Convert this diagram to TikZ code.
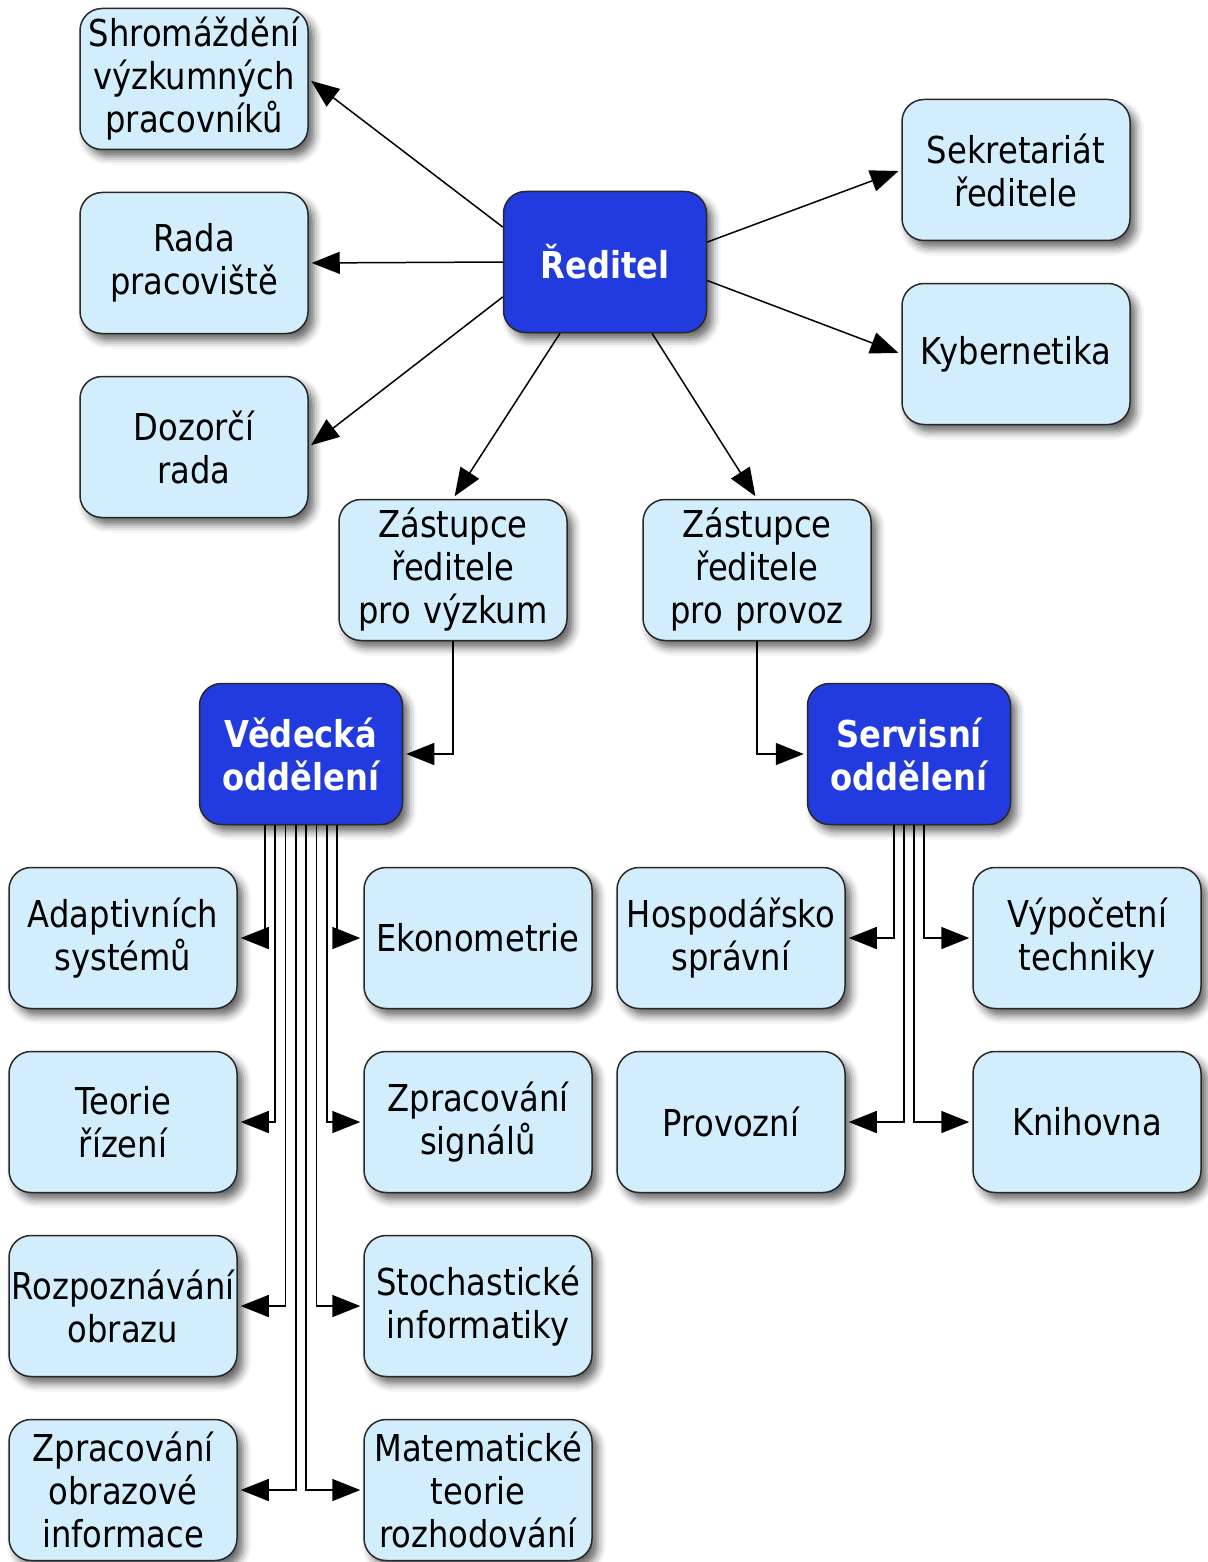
\documentclass[tikz,border=0pt]{standalone}
\usepackage{fontspec}
\setmainfont{DejaVu Sans}[FakeStretch=0.87]
\usepackage{tikz}
\usepackage{xcolor}
\usetikzlibrary{shapes,arrows.meta,positioning,calc,shadows.blur}

\definecolor{boxfill}{RGB}{210,238,252}
\definecolor{headfill}{RGB}{33,59,222}
\definecolor{boxline}{RGB}{40,40,40}

\begin{document}
\begin{tikzpicture}[x=0.5pt, y=-0.5pt, node distance=20.75pt]
            \tikzstyle{unit} = [rectangle, rounded corners=11pt, draw=boxline, line width=0.75pt, fill=boxfill, text width=112pt, align=center, minimum width=114pt, minimum height=70.5pt, inner sep=0pt, font=\fontsize{18.5pt}{21.5pt}\selectfont, blur shadow={shadow xshift=3pt, shadow yshift=-3.5pt, shadow blur radius=4pt, shadow opacity=60}]
            \tikzstyle{head} = [unit, fill=headfill, text=white, text width=100pt, minimum width=101.5pt, font=\fontsize{18.5pt}{21.5pt}\selectfont\bfseries]
            \tikzstyle{arrow} = [line width=0.75pt, -{Triangle[length=14pt,width=11pt]}, shorten >=1.5pt]

            \useasboundingbox (0,0) rectangle (1207,1562);

            % top level
            \node [head] (reditel) at (605,262) {Ředitel};
            \node [unit] (shromazdeni) at (194,79) {Shromáždění\\výzkumných\\pracovníků};
            \node [unit, below=of shromazdeni] (rada) {Rada\\pracoviště};
            \node [unit, below=of rada] (dozorci) {Dozorčí\\rada};
            \node [unit] (sekretariat) at (1016,170) {Sekretariát\\ředitele};
            \node [unit, below=of sekretariat] (kybernetika) {Kybernetika};
            \node [unit] (zastvyzkum) at (453,570) {Zástupce\\ředitele\\pro výzkum};
            \node [unit] (zastprovoz) at (757,570) {Zástupce\\ředitele\\pro provoz};

            % departments
            \node [head] (vedecka) at (301,754) {Vědecká\\oddělení};
            \node [head] (servisni) at (909,754) {Servisní\\oddělení};

            \node [unit] (adaptivni) at (123,938) {Adaptivních\\systémů};
            \node [unit, below=of adaptivni] (teorie) {Teorie\\řízení};
            \node [unit, below=of teorie] (rozpoznavani) {Rozpoznávání\\obrazu};
            \node [unit, below=of rozpoznavani] (obrazove) {Zpracování\\obrazové\\informace};

            \node [unit] (ekonometrie) at (478,938) {Ekonometrie};
            \node [unit, below=of ekonometrie] (signaly) {Zpracování\\signálů};
            \node [unit, below=of signaly] (stochasticke) {Stochastické\\informatiky};
            \node [unit, below=of stochasticke] (matematicke) {Matematické\\teorie\\rozhodování};

            \node [unit] (hospodarsko) at (731,938) {Hospodářsko\\správní};
            \node [unit, below=of hospodarsko] (provozni) {Provozní};
            \node [unit] (vypocetni) at (1087,938) {Výpočetní\\techniky};
            \node [unit, below=of vypocetni] (knihovna) {Knihovna};

            % from the director
            \draw [arrow] ($(reditel.north west)!0.255!(reditel.south west)$) -- (shromazdeni.east);
            \draw [arrow] (reditel.west) -- (rada.east);
            \draw [arrow] ($(reditel.north west)!0.745!(reditel.south west)$) -- (dozorci.east);
            \draw [arrow] ($(reditel.north east)!0.36!(reditel.south east)$) -- (sekretariat.west);
            \draw [arrow] ($(reditel.north east)!0.63!(reditel.south east)$) -- (kybernetika.west);
            \draw [arrow] ($(reditel.south west)!0.28!(reditel.south east)$) -- (zastvyzkum.north);
            \draw [arrow] ($(reditel.south west)!0.73!(reditel.south east)$) -- (zastprovoz.north);

            \draw [arrow] (zastvyzkum.south) |- (vedecka.east);
            \draw [arrow] (zastprovoz.south) |- (servisni.west);

            % research departments
            \draw [arrow] ([xshift=-18pt]vedecka.south) |- (adaptivni.east);
            \draw [arrow] ([xshift=-12.9pt]vedecka.south) |- (teorie.east);
            \draw [arrow] ([xshift=-7.75pt]vedecka.south) |- (rozpoznavani.east);
            \draw [arrow] ([xshift=-2.6pt]vedecka.south) |- (obrazove.east);
            \draw [arrow] ([xshift=2.6pt]vedecka.south) |- (matematicke.west);
            \draw [arrow] ([xshift=7.75pt]vedecka.south) |- (stochasticke.west);
            \draw [arrow] ([xshift=12.9pt]vedecka.south) |- (signaly.west);
            \draw [arrow] ([xshift=18pt]vedecka.south) |- (ekonometrie.west);

            % service departments
            \draw [arrow] ([xshift=-7.5pt]servisni.south) |- (hospodarsko.east);
            \draw [arrow] ([xshift=-2.5pt]servisni.south) |- (provozni.east);
            \draw [arrow] ([xshift=2.5pt]servisni.south) |- (knihovna.west);
            \draw [arrow] ([xshift=7.5pt]servisni.south) |- (vypocetni.west);
        \end{tikzpicture}
\end{document}
